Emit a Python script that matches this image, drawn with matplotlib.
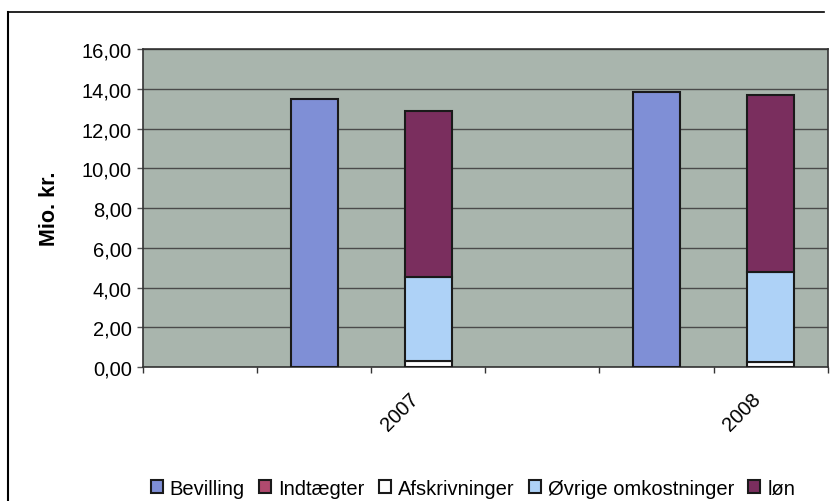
import numpy as np
import matplotlib
matplotlib.use("Agg")
import matplotlib.pyplot as plt
from matplotlib.lines import Line2D
from matplotlib.patches import Patch

# data (Mio. kr.)
years = ["2007", "2008"]
bevilling = [13.50, 13.85]
indtaegter = [0.0, 0.0]
afskrivninger = [0.30, 0.25]
oevrige = [4.22, 4.52]
loen = [8.38, 8.93]

plt.rcParams['font.family'] = ['Liberation Sans', 'DejaVu Sans']

c_bev = '#7f8fd6'
c_ind = '#b04a6e'
c_afs = '#ffffff'
c_oev = '#aed2f7'
c_loen = '#7a2e5e'
edge = '#1a1a1a'

fig = plt.figure(figsize=(8.37, 5.02), dpi=100)
ax = fig.add_axes([0.1709, 0.267, 0.818, 0.633])
ax.set_facecolor('#a9b5ad')

w = 0.41
x_bev = np.array([1.5, 4.5])
x_stk = np.array([2.5, 5.5])

ax.bar(x_bev, bevilling, w, color=c_bev, edgecolor=edge, linewidth=1.5, zorder=3)
b0 = np.zeros(2)
for vals, col in [(indtaegter, c_ind), (afskrivninger, c_afs), (oevrige, c_oev), (loen, c_loen)]:
    vals = np.array(vals)
    ax.bar(x_stk, vals, w, bottom=b0, color=col, edgecolor=edge, linewidth=1.5, zorder=3)
    b0 = b0 + vals

ax.set_xlim(0, 6)
ax.set_ylim(0, 16)
ax.set_yticks(np.arange(0, 17, 2))
ax.set_yticklabels([('%.2f' % v).replace('.', ',') for v in np.arange(0, 17, 2)], fontsize=14.5)
ax.yaxis.grid(True, color='#4a4a4a', linewidth=1.0, zorder=1)
ax.tick_params(axis='y', length=4, width=1, color='#555555', pad=4)

# year labels sit a little left of the stacked bar centre
ax.set_xticks(x_stk - 0.17)
ax.set_xticklabels(years, rotation=45, ha='right', va='top', rotation_mode='anchor', fontsize=14.5)
ax.set_xticks(np.arange(0, 7), minor=True)
ax.tick_params(axis='x', which='major', length=0, pad=16)
ax.tick_params(axis='x', which='minor', length=4, width=1, color='#333333')

for s in ax.spines.values():
    s.set_color('#333333')
    s.set_linewidth(1.2)

ax.set_ylabel('Mio. kr.', fontsize=15.5, fontweight='bold', labelpad=16)

handles = [Patch(facecolor=c, edgecolor=edge, linewidth=1.5) for c in [c_bev, c_ind, c_afs, c_oev, c_loen]]
labels = ['Bevilling', 'Indtægter', 'Afskrivninger', 'Øvrige omkostninger', 'løn']
fig.legend(handles, labels, loc='center', bbox_to_anchor=(0.565, 0.025), ncol=5, frameon=False,
           fontsize=14.5, handlelength=0.6, handleheight=0.6, handletextpad=0.35, columnspacing=0.7)

# outer frame of the scanned chart
fig.add_artist(Line2D([0.0096, 0.0096], [0.0, 0.974], color='black', linewidth=1.5))
fig.add_artist(Line2D([0.0096, 0.985], [0.974, 0.974], color='black', linewidth=1.2))

fig.savefig('out.png', dpi=100)
